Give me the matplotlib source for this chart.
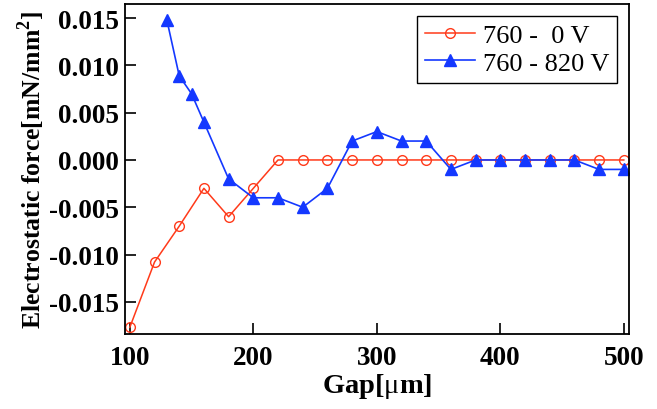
import matplotlib
matplotlib.use('Agg')
import matplotlib.pyplot as plt
import matplotlib.ticker as ticker

plt.rcParams['font.family'] = ['Liberation Serif', 'DejaVu Serif']
plt.rcParams['mathtext.fontset'] = 'custom'
plt.rcParams['mathtext.rm'] = 'Liberation Serif'
plt.rcParams['mathtext.bf'] = 'Liberation Serif:bold'

# 760 - 0 V
gap_0v = [100, 120, 140, 160, 180, 200, 220, 240, 260, 280, 300, 320, 340,
          360, 380, 400, 420, 440, 460, 480, 500]
force_0v = [-0.0177, -0.0108, -0.007, -0.003, -0.006, -0.003, 0.0, 0.0, 0.0,
            0.0, 0.0, 0.0, 0.0, 0.0, 0.0, 0.0, 0.0, 0.0, 0.0, 0.0, 0.0]

# 760 - 820 V
gap_820v = [130, 140, 150, 160, 180, 200, 220, 240, 260, 280, 300, 320, 340,
            360, 380, 400, 420, 440, 460, 480, 500]
force_820v = [0.0148, 0.0089, 0.007, 0.004, -0.002, -0.004, -0.004, -0.005,
              -0.003, 0.002, 0.003, 0.002, 0.002, -0.001, 0.0, 0.0, 0.0, 0.0,
              0.0, -0.001, -0.001]

x_ticks = [100, 200, 300, 400, 500]
y_ticks = [-0.015, -0.010, -0.005, 0.000, 0.005, 0.010, 0.015]

red = '#ff3a1a'
blue = '#1438ff'

fig = plt.figure(figsize=(6.57, 4.10), dpi=100)
ax = fig.add_axes([0.191, 0.183, 0.766, 0.805])

ax.plot(gap_0v, force_0v, '-o', color=red, lw=1.1, ms=7,
        mfc='none', mec=red, mew=1.0, label='760 -  0 V')
ax.plot(gap_820v, force_820v, '-^', color=blue, lw=1.2, ms=8,
        mfc=blue, mec=blue, label='760 - 820 V')

ax.set_xlim(96.5, 504)
ax.set_ylim(-0.0184, 0.0165)
ax.set_xticks(x_ticks)
ax.set_yticks(y_ticks)
ax.yaxis.set_major_formatter(ticker.FormatStrFormatter('%.3f'))

ax.tick_params(direction='in', length=8, width=1.2, labelsize=19.5,
               top=False, right=False)
ax.tick_params(axis='y', pad=5)
ax.tick_params(axis='x', pad=8)
for lbl in ax.get_xticklabels() + ax.get_yticklabels():
    lbl.set_fontweight('bold')
for s in ax.spines.values():
    s.set_linewidth(1.3)

ax.set_xlabel('Gap[$\\mathrm{\\mu}$m]', fontsize=20.5, fontweight='bold', labelpad=1)
ax.set_ylabel('Electrostatic force[mN/mm$^\\mathbf{2}$]', fontsize=18.5,
              fontweight='bold', labelpad=1)

leg = ax.legend(loc='upper right', fontsize=19, fancybox=False,
                edgecolor='black', framealpha=1, borderpad=0.3,
                handlelength=1.9, handletextpad=0.3, labelspacing=0.15,
                borderaxespad=0.45)
leg.get_frame().set_linewidth(1.0)

fig.savefig('out.png', dpi=100)
